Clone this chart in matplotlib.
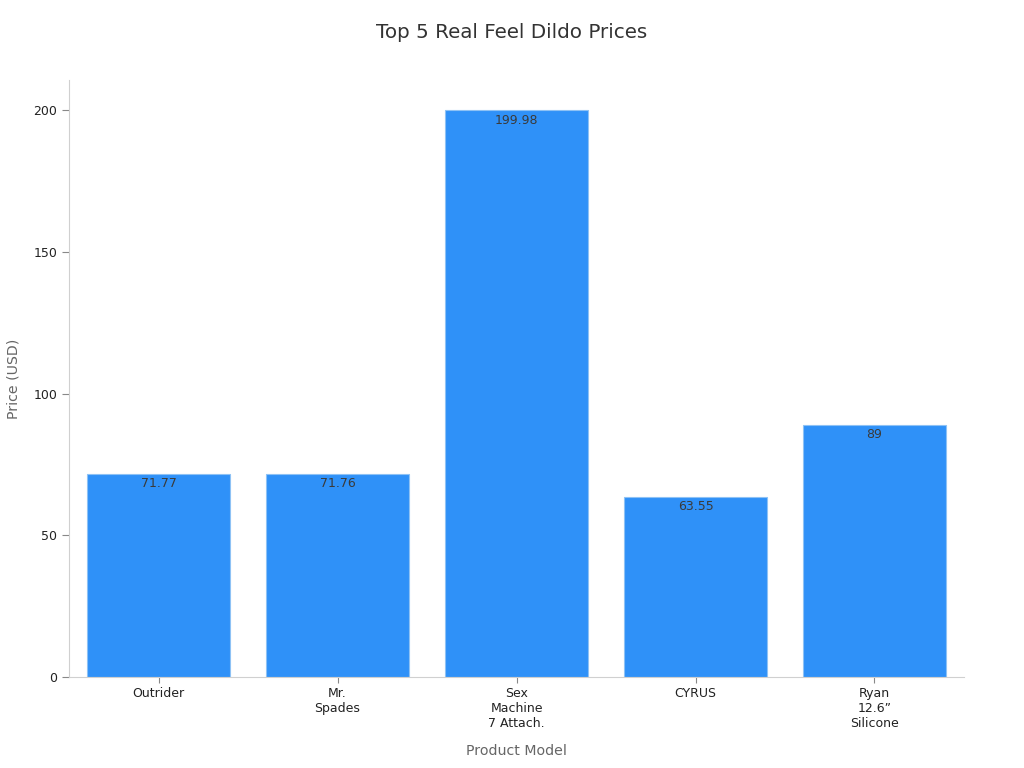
import matplotlib
matplotlib.use('Agg')
import matplotlib.pyplot as plt

models = ['Outrider', 'Mr.\nSpades', 'Sex\nMachine\n7 Attach.', 'CYRUS', 'Ryan\n12.6\u201d\nSilicone']
prices = [71.77, 71.76, 199.98, 63.55, 89]
price_labels = ['71.77', '71.76', '199.98', '63.55', '89']

fig = plt.figure(figsize=(10.24, 7.68), dpi=100)
ax = fig.add_axes([0.0674, 0.1185, 0.874, 0.7773])

x = range(len(models))
bars = ax.bar(x, prices, width=0.8, color='#2F91F8', edgecolor='#8EC2F5', linewidth=0.8)

for b, lab in zip(bars, price_labels):
    ax.annotate(lab, (b.get_x() + b.get_width() / 2, b.get_height()),
                xytext=(0, -2.5), textcoords='offset points',
                ha='center', va='top', fontsize=9, color='#3a3a3a')

ax.set_xlim(-0.5, 4.5)
ax.set_ylim(0, 210.6)
ax.set_yticks([0, 50, 100, 150, 200])
ax.set_xticks(list(x))
ax.set_xticklabels(models, fontsize=9, color='#222222')
ax.tick_params(axis='y', labelsize=9, labelcolor='#222222', color='#888888', length=5)
ax.tick_params(axis='x', color='#888888', length=4)

for s in ['top', 'right']:
    ax.spines[s].set_visible(False)
for s in ['left', 'bottom']:
    ax.spines[s].set_color('#d0d0d0')

ax.set_xlabel('Product Model', fontsize=10.2, color='#666666', labelpad=10)
ax.set_ylabel('Price (USD)', fontsize=10.2, color='#666666', labelpad=9)
fig.suptitle('Top 5 Real Feel Dildo Prices', fontsize=14.3, color='#333333', y=0.97)

fig.savefig('out.png', dpi=100)
